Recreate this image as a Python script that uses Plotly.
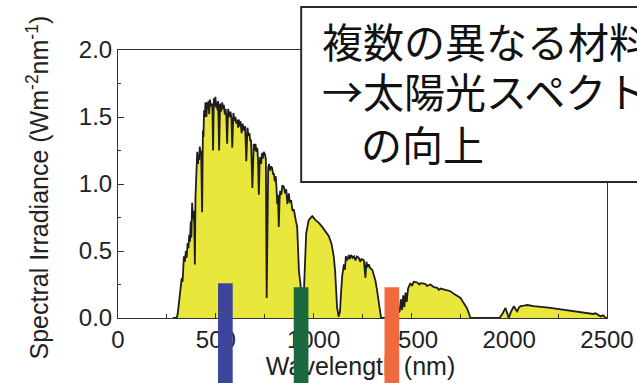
import plotly.graph_objects as go

# Solar spectral irradiance (W m^-2 nm^-1) against wavelength (nm)
wavelength_nm = [
    280, 300, 305, 312, 320, 326, 330, 337, 342, 347,
    351, 356, 360, 364, 368, 372, 375, 379, 383, 386,
    390, 393, 396, 400, 405, 409, 412, 415, 418, 422,
    425, 430, 434, 437, 440, 444, 447, 452, 456, 460,
    463, 466, 470, 475, 480, 483, 486, 490, 494, 498,
    502, 505, 509, 512, 517, 522, 527, 533, 537, 541,
    546, 550, 554, 558, 563, 569, 575, 580, 584, 590,
    595, 600, 605, 610, 614, 618, 622, 626, 632, 637,
    643, 650, 656, 662, 667, 672, 676, 680, 687, 694,
    698, 703, 708, 712, 716, 720, 724, 727, 732, 736,
    740, 745, 752, 756, 760, 764, 768, 772, 777, 782,
    788, 793, 797, 802, 806, 810, 814, 818, 822, 826,
    829, 835, 840, 848, 854, 860, 866, 873, 879, 885,
    892, 899, 905, 910, 916, 925, 933, 940, 950, 955,
    962, 975, 984, 993, 1010, 1027, 1044, 1060, 1078, 1092,
    1103, 1110, 1115, 1120, 1128, 1135, 1140, 1146, 1155, 1160,
    1165, 1172, 1180, 1186, 1192, 1200, 1207, 1214, 1222, 1231,
    1238, 1245, 1257, 1265, 1270, 1276, 1282, 1290, 1300, 1310,
    1316, 1325, 1333, 1340, 1345, 1380, 1420, 1440, 1446, 1452,
    1458, 1464, 1470, 1476, 1483, 1495, 1503, 1512, 1530, 1540,
    1547, 1570, 1580, 1598, 1615, 1632, 1640, 1649, 1675, 1700,
    1717, 1735, 1751, 1768, 1785, 1795, 1802, 1950, 1965, 1981,
    1990, 1998, 2010, 2024, 2035, 2041, 2050, 2058, 2075, 2092,
    2126, 2160, 2200, 2228, 2260, 2297, 2330, 2365, 2400, 2416,
    2430, 2441, 2455, 2467, 2480, 2492, 2500,
]
irradiance = [
    0.0, 0.0, 0.03, 0.12, 0.23, 0.30, 0.27, 0.46, 0.42, 0.50,
    0.45, 0.56, 0.52, 0.62, 0.57, 0.72, 0.60, 0.86, 0.74, 0.80,
    0.70, 0.40, 0.90, 1.08, 1.24, 1.15, 1.22, 1.18, 1.28, 1.22,
    1.25, 0.79, 1.40, 1.35, 1.55, 1.50, 1.61, 1.50, 1.61, 1.56,
    1.62, 1.52, 1.63, 1.58, 1.60, 1.55, 1.25, 1.64, 1.58, 1.65,
    1.57, 1.61, 1.55, 1.62, 1.25, 1.60, 1.54, 1.61, 1.56, 1.59,
    1.52, 1.56, 1.50, 1.30, 1.56, 1.50, 1.54, 1.49, 1.27, 1.53,
    1.47, 1.50, 1.45, 1.48, 1.42, 1.48, 1.43, 1.47, 1.38, 1.45,
    1.40, 1.43, 1.17, 1.42, 1.36, 1.38, 1.32, 1.33, 0.97, 1.30,
    1.25, 1.30, 1.24, 1.27, 1.18, 0.92, 1.15, 1.20, 1.15, 1.23,
    1.19, 1.24, 1.22, 1.18, 0.15, 0.95, 1.12, 1.15, 1.10, 1.13,
    1.12, 1.07, 1.08, 1.02, 1.06, 0.98, 0.85, 0.92, 0.68, 0.88,
    0.95, 0.92, 0.99, 0.98, 0.93, 0.96, 0.85, 0.93, 0.86, 0.88,
    0.80, 0.81, 0.74, 0.72, 0.68, 0.35, 0.25, 0.10, 0.18, 0.45,
    0.63, 0.73, 0.75, 0.76, 0.73, 0.71, 0.68, 0.65, 0.61, 0.55,
    0.46, 0.35, 0.22, 0.08, 0.01, 0.05, 0.18, 0.31, 0.40, 0.36,
    0.46, 0.43, 0.47, 0.44, 0.47, 0.45, 0.46, 0.43, 0.46, 0.45,
    0.42, 0.44, 0.43, 0.30, 0.42, 0.38, 0.40, 0.37, 0.36, 0.32,
    0.28, 0.20, 0.13, 0.04, 0.0, 0.0, 0.02, 0.05, 0.14, 0.06,
    0.17, 0.08, 0.19, 0.12, 0.22, 0.26, 0.24, 0.27, 0.265, 0.25,
    0.26, 0.255, 0.24, 0.25, 0.23, 0.225, 0.21, 0.22, 0.21, 0.20,
    0.18, 0.165, 0.15, 0.11, 0.07, 0.03, 0.0, 0.0, 0.03, 0.075,
    0.04, 0.0, 0.05, 0.088, 0.06, 0.05, 0.08, 0.088, 0.092, 0.097,
    0.088, 0.085, 0.078, 0.072, 0.066, 0.06, 0.054, 0.047, 0.04, 0.035,
    0.03, 0.035, 0.02, 0.012, 0.02, 0.003, 0.0,
]

x_ticks = [0, 500, 1000, 1500, 2000, 2500]
x_minor = [250, 750, 1250, 1750, 2250]
y_ticks = [0.0, 0.5, 1.0, 1.5, 2.0]
y_minor = [0.25, 0.75, 1.25, 1.75]

# absorption bands of the stacked materials
band_centers_nm = [549, 936, 1400]
band_tops = [0.26, 0.23, 0.23]
band_colors = ["#3C449B", "#1B693E", "#F06A40"]
band_width_nm = 75

box_lines = ["複数の異なる材料", "→太陽光スペクトル", "の向上"]
x_title = "Wavelength (nm)"
y_title = "Spectral Irradiance (Wm<sup>-2</sup>nm<sup>-1</sup>)"

X_MAX, Y_MAX = 2500, 2.0
W, H = 637, 383
M_L, M_R, M_T, M_B = 118, 30, 50, 65
AXIS_FONT = "Liberation Sans, Arial, sans-serif"
JP_FONT = "Noto Sans CJK JP"

# the main axes leave room at the bottom; a hidden full-height y axis
# carries the x title so it sits under the band bars
plot_h = H - M_T
y_dom_lo = M_B / plot_h
y2_lo = -Y_MAX * y_dom_lo / (1 - y_dom_lo)

fig = go.Figure()

fig.add_trace(go.Scatter(
    x=wavelength_nm, y=irradiance, mode="lines",
    line=dict(color="#1e1e1e", width=1.8),
    fill="tozeroy", fillcolor="#E9E73C",
    hoverinfo="skip",
))

fig.add_trace(go.Scatter(
    x=[1240], y=[-0.38], yaxis="y2", mode="text",
    text=[x_title], textposition="middle center",
    textfont=dict(family=AXIS_FONT, size=25, color="#222"),
    cliponaxis=False, hoverinfo="skip",
))

for c, top, col in zip(band_centers_nm, band_tops, band_colors):
    fig.add_shape(
        type="rect", xref="x", yref="y domain",
        x0=c - band_width_nm / 2, x1=c + band_width_nm / 2,
        y0=-0.3, y1=top / Y_MAX,
        fillcolor=col, line=dict(width=0), layer="above",
    )

# callout box
fig.add_shape(
    type="rect", xref="x domain", yref="y domain",
    x0=0.3746, x1=1.3, y0=0.5075, y1=1.1604,
    fillcolor="white", line=dict(color="#2a2a2a", width=2), layer="above",
)

line_pos = [(0.4155, 1.0355), (0.4155, 0.8500), (0.4940, 0.6520)]
for txt, (px, py) in zip(box_lines, line_pos):
    fig.add_annotation(
        x=px, y=py, xref="x domain", yref="y domain",
        xanchor="left", yanchor="middle", showarrow=False,
        text=txt, borderpad=0,
        font=dict(family=JP_FONT, size=41, color="#111"),
    )

fig.add_annotation(
    x=-0.1636, y=0.487, xref="x domain", yref="y domain",
    xanchor="center", yanchor="middle", showarrow=False, textangle=-90,
    text=y_title,
    font=dict(family=AXIS_FONT, size=25, color="#222"),
)

fig.update_layout(
    width=W, height=H,
    margin=dict(l=M_L, r=M_R, t=M_T, b=0, autoexpand=False),
    paper_bgcolor="white", plot_bgcolor="rgba(0,0,0,0)",
    showlegend=False,
    xaxis=dict(
        range=[0, X_MAX], tickmode="array", tickvals=x_ticks, automargin=False,
        ticks="inside", ticklen=5, tickcolor="#333",
        showline=True, linecolor="#333", linewidth=1, mirror=True,
        showgrid=False, zeroline=False,
        minor=dict(tickmode="array", tickvals=x_minor, ticks="inside", ticklen=4, tickcolor="#333"),
        tickfont=dict(family=AXIS_FONT, size=24, color="#222"),
    ),
    yaxis=dict(
        domain=[y_dom_lo, 1], range=[0, Y_MAX], automargin=False,
        tickmode="array", tickvals=y_ticks, tickformat=".1f",
        ticks="inside", ticklen=6, tickcolor="#333",
        showline=True, linecolor="#333", linewidth=1, mirror=True,
        showgrid=False, zeroline=False,
        minor=dict(tickmode="array", tickvals=y_minor, ticks="inside", ticklen=3, tickcolor="#333"),
        tickfont=dict(family=AXIS_FONT, size=24, color="#222"),
    ),
    yaxis2=dict(
        domain=[0, 1], range=[y2_lo, Y_MAX], anchor="x", automargin=False,
        visible=False, showgrid=False, zeroline=False,
    ),
)

fig.write_html("out.html")
